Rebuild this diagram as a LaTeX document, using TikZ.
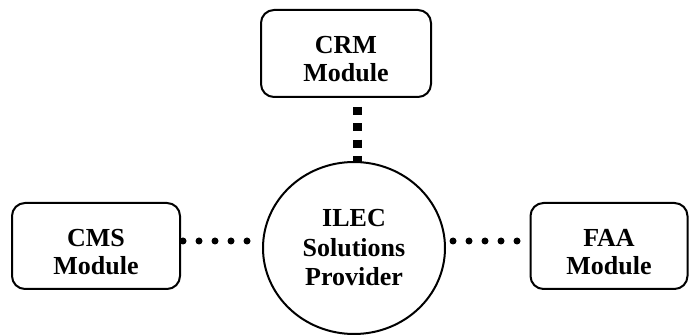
\documentclass[tikz,border=0pt]{standalone}
\usepackage{fontspec}
\setmainfont{Liberation Serif}
\usepackage{tikz}
\usetikzlibrary{shapes.geometric}

\begin{document}
\begin{tikzpicture}[x = 1pt, y = 1pt,
        module/.style = {draw, line width = 2pt, outer sep = 0pt, rounded corners = 13pt, minimum height = 86pt},
        modtext/.style = {align = center, yshift = -6pt, font = \bfseries\fontsize{26}{28}\selectfont},
        hub/.style = {ellipse, draw, line width = 2pt, outer sep = 0pt, minimum width = 182pt, minimum height = 172pt, inner sep = 0pt, align = center, font = \bfseries\fontsize{26}{29.5}\selectfont},
        squaredots/.style = {line width = 8.3pt, line cap = butt, dash pattern = on 8pt off 8.3pt},
        rounddots/.style = {line width = 7pt, line cap = round, dash pattern = on 0pt off 16pt}]
        \useasboundingbox (0, 0) rectangle (689, 335);
        \node (crm) at (346, 281.5) [module, minimum width = 170pt, minimum height = 87pt, label = {[modtext]center:{CRM\\Module}}] {};
        \node (cms) at (96, 89) [module, minimum width = 168pt, label = {[modtext]center:{CMS\\Module}}] {};
        \node (faa) at (609, 89) [module, minimum width = 157pt, label = {[modtext]center:{FAA\\Module}}] {};
        \node (ilec) at (354, 87) [hub] {ILEC\\Solutions\\Provider};
        \draw [squaredots] ([xshift = 11.5pt, yshift = -10pt]crm.south) -- ([xshift = 3.5pt]ilec.north);
        \draw [rounddots] ([xshift = 3pt, yshift = 5pt]cms.east) -- ([xshift = -14.5pt, yshift = 7pt]ilec.west);
        \draw [rounddots] ([xshift = 8pt, yshift = 7pt]ilec.east) -- ([xshift = -12pt, yshift = 5pt]faa.west);
    \end{tikzpicture}
\end{document}
